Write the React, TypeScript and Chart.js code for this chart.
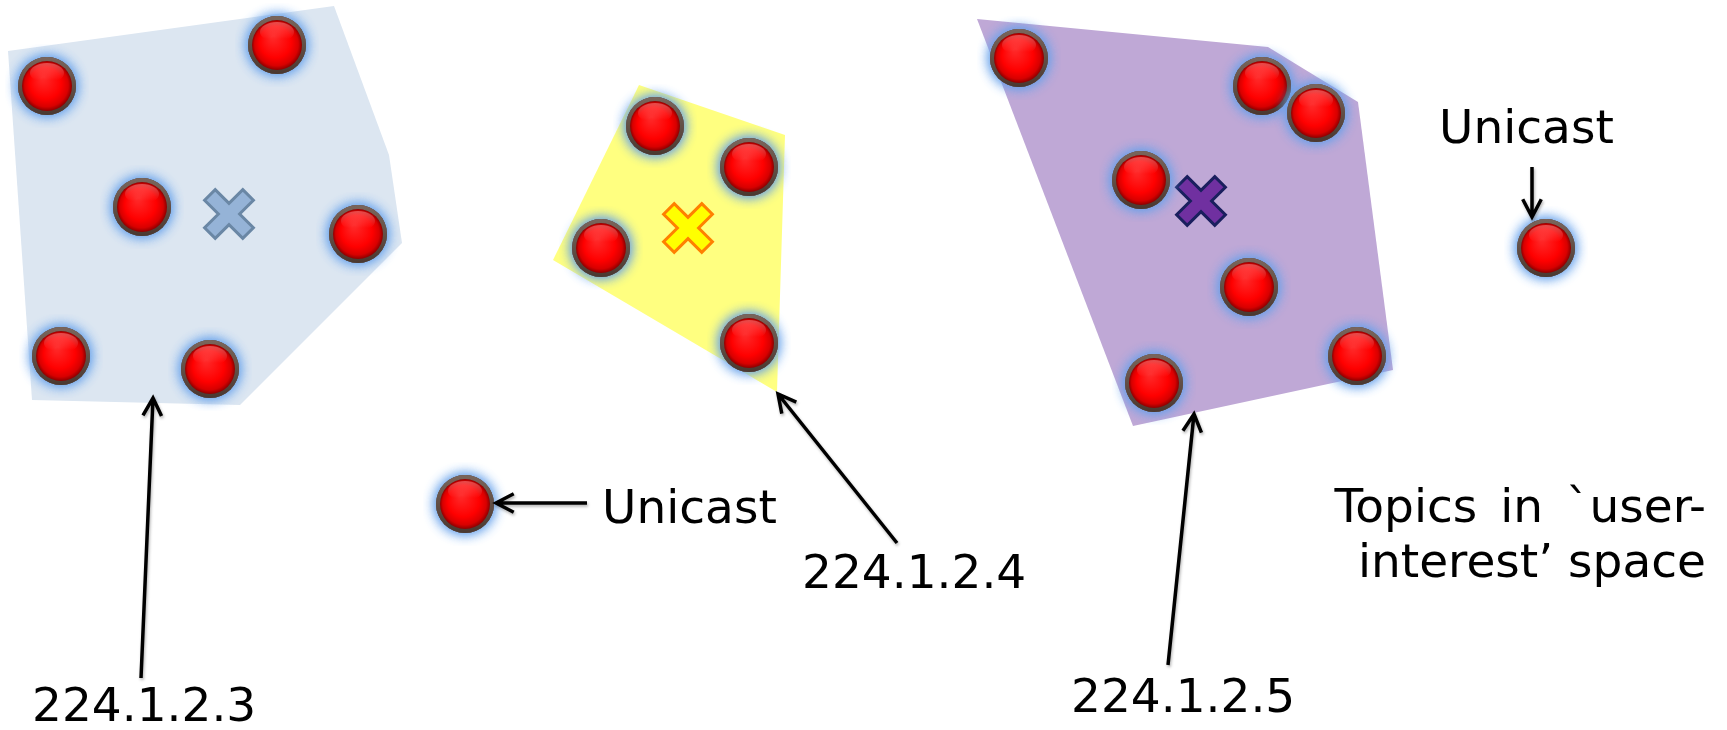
import { useEffect, useRef } from "react";
import { Chart, registerables } from "chart.js";

Chart.register(...registerables);

// ---- data (diagram coordinates: x 0..1727, y 0..730 top-down) ----
const blueRegion = [
  { x: 8, y: 51 }, { x: 334, y: 6 }, { x: 389, y: 155 }, { x: 402, y: 243 }, { x: 240, y: 405 }, { x: 32, y: 400 },
];
const blueTopics = [
  { x: 47, y: 86 }, { x: 277, y: 45 }, { x: 142, y: 207 }, { x: 358, y: 234 }, { x: 61, y: 356 }, { x: 210, y: 369 },
];
const blueCentroid = [{ x: 229, y: 214 }];

const yellowRegion = [
  { x: 639, y: 85 }, { x: 785, y: 135 }, { x: 777, y: 392 }, { x: 553, y: 260 },
];
const yellowTopics = [
  { x: 655, y: 126 }, { x: 749, y: 167 }, { x: 601, y: 248 }, { x: 749, y: 343 },
];
const yellowCentroid = [{ x: 688, y: 228 }];

const purpleRegion = [
  { x: 977, y: 19 }, { x: 1268, y: 47 }, { x: 1358, y: 102 }, { x: 1393, y: 370 }, { x: 1133, y: 426 },
];
const purpleTopics = [
  { x: 1019, y: 58 }, { x: 1262, y: 86 }, { x: 1316, y: 113 }, { x: 1141, y: 180 }, { x: 1249, y: 287 }, { x: 1357, y: 356 }, { x: 1154, y: 383 },
];
const purpleCentroid = [{ x: 1201, y: 201 }];

const unicastTopics = [{ x: 465, y: 504 }, { x: 1546, y: 248 }];

const arrowStarts = [
  { x: 141, y: 678 }, { x: 897, y: 543 }, { x: 1168, y: 665 }, { x: 587, y: 503 }, { x: 1532, y: 167 },
];
const arrowEnds = [
  { x: 153, y: 398 }, { x: 778, y: 394 }, { x: 1194, y: 414 }, { x: 496, y: 503 }, { x: 1532, y: 217 },
];

const labelTexts = ["224.1.2.3", "224.1.2.4", "224.1.2.5", "Unicast", "Unicast", "Topics in `user-", "interest\u2019 space"];
const labelAnchors = [
  { x: 32, y: 721 }, { x: 802, y: 588 }, { x: 1071, y: 712 }, { x: 602, y: 523 }, { x: 1439, y: 143 }, { x: 1706, y: 522 }, { x: 1706, y: 577 },
];
const labelAligns = ["left", "left", "left", "left", "left", "right", "right"];
const labelWordSpacing = [0, 0, 0, 0, 0, 8, 0];

// ---- marker images ----
function makeBall(): HTMLCanvasElement {
  const c = document.createElement("canvas");
  c.width = 84;
  c.height = 84;
  const g = c.getContext("2d")!;
  const cx = 42, cy = 42;
  g.save();
  g.shadowColor = "rgba(100,160,235,1)";
  g.shadowBlur = 13;
  g.beginPath();
  g.arc(cx, cy, 29, 0, Math.PI * 2);
  g.fillStyle = "#5f4b42";
  g.fill();
  g.fill();
  g.restore();
  const rg = g.createLinearGradient(0, cy - 29, 0, cy + 29);
  rg.addColorStop(0, "#7a665c");
  rg.addColorStop(1, "#4a3830");
  g.beginPath();
  g.arc(cx, cy, 29, 0, Math.PI * 2);
  g.fillStyle = rg;
  g.fill();
  const bg = g.createRadialGradient(cx - 4, cy - 7, 2, cx, cy, 25);
  bg.addColorStop(0, "#ff2424");
  bg.addColorStop(0.6, "#ff0000");
  bg.addColorStop(0.86, "#d80000");
  bg.addColorStop(1, "#8c0000");
  g.beginPath();
  g.arc(cx, cy, 25, 0, Math.PI * 2);
  g.fillStyle = bg;
  g.fill();
  const hg = g.createLinearGradient(0, cy - 24, 0, cy - 6);
  hg.addColorStop(0, "rgba(255,255,255,0.32)");
  hg.addColorStop(1, "rgba(255,255,255,0)");
  g.beginPath();
  g.ellipse(cx, cy - 13, 17, 10, 0, 0, Math.PI * 2);
  g.fillStyle = hg;
  g.fill();
  return c;
}

function makeCross(fill: string, stroke: string): HTMLCanvasElement {
  const c = document.createElement("canvas");
  c.width = 60;
  c.height = 60;
  const g = c.getContext("2d")!;
  g.translate(30, 30);
  g.rotate(Math.PI / 4);
  const a = 27, w = 7.5;
  const pts = [
    [-w, -a], [w, -a], [w, -w], [a, -w], [a, w], [w, w], [w, a], [-w, a], [-w, w], [-a, w], [-a, -w], [-w, -w],
  ];
  g.beginPath();
  pts.forEach(([x, y], i) => (i ? g.lineTo(x, y) : g.moveTo(x, y)));
  g.closePath();
  g.fillStyle = fill;
  g.fill();
  g.lineWidth = 3;
  g.lineJoin = "miter";
  g.strokeStyle = stroke;
  g.stroke();
  return c;
}

const diagramPlugin = {
  id: "diagram",
  beforeDatasetsDraw(chart: any) {
    const ctx = chart.ctx;
    chart.data.datasets.forEach((ds: any, i: number) => {
      if (!ds.regionColor) return;
      const meta = chart.getDatasetMeta(i);
      ctx.save();
      ctx.beginPath();
      meta.data.forEach((pt: any, j: number) => (j ? ctx.lineTo(pt.x, pt.y) : ctx.moveTo(pt.x, pt.y)));
      ctx.closePath();
      ctx.fillStyle = ds.regionColor;
      ctx.fill();
      ctx.restore();
    });
  },
  afterDatasetsDraw(chart: any) {
    const ctx = chart.ctx;
    const xs = chart.scales.x, ys = chart.scales.y;
    // arrows
    arrowStarts.forEach((s, i) => {
      const e = arrowEnds[i];
      const x1 = xs.getPixelForValue(s.x), y1 = ys.getPixelForValue(s.y);
      const x2 = xs.getPixelForValue(e.x), y2 = ys.getPixelForValue(e.y);
      const ang = Math.atan2(y2 - y1, x2 - x1);
      const head = 20, spread = Math.PI / 6.5;
      ctx.save();
      ctx.shadowColor = "rgba(0,0,0,0.3)";
      ctx.shadowBlur = 3;
      ctx.shadowOffsetX = 1;
      ctx.shadowOffsetY = 2;
      ctx.strokeStyle = "#000";
      ctx.lineWidth = 3.5;
      ctx.lineCap = "butt";
      ctx.lineJoin = "miter";
      ctx.beginPath();
      ctx.moveTo(x1, y1);
      ctx.lineTo(x2, y2);
      ctx.moveTo(x2 - head * Math.cos(ang - spread), y2 - head * Math.sin(ang - spread));
      ctx.lineTo(x2, y2);
      ctx.lineTo(x2 - head * Math.cos(ang + spread), y2 - head * Math.sin(ang + spread));
      ctx.stroke();
      ctx.restore();
    });
    // labels
    labelTexts.forEach((t, i) => {
      const p = labelAnchors[i];
      ctx.save();
      ctx.fillStyle = "#000";
      ctx.font = '47px "DejaVu Sans", Verdana, sans-serif';
      ctx.textBaseline = "alphabetic";
      (ctx as any).wordSpacing = labelWordSpacing[i] + "px";
      ctx.textAlign = labelAligns[i] as CanvasTextAlign;
      ctx.fillText(t, xs.getPixelForValue(p.x), ys.getPixelForValue(p.y));
      ctx.restore();
    });
  },
};

export default function App() {
  const ref = useRef<HTMLCanvasElement>(null);
  useEffect(() => {
    document.body.style.margin = "0";
    const ball = makeBall();
    const blueX = makeCross("#95b3d7", "#6a87a5");
    const yellowX = makeCross("#ffff00", "#ff8000");
    const purpleX = makeCross("#7030a0", "#1a1f5e");
    const ballDs = (data: any[]) => ({
      data,
      pointStyle: ball,
      pointRadius: 30,
      pointHoverRadius: 30,
      showLine: false,
      clip: false,
    });
    const crossDs = (data: any[], img: HTMLCanvasElement) => ({
      data,
      pointStyle: img,
      pointRadius: 26,
      pointHoverRadius: 26,
      showLine: false,
      clip: false,
    });
    const regionDs = (data: any[], color: string) => ({
      data,
      regionColor: color,
      pointRadius: 0,
      pointHoverRadius: 0,
      showLine: false,
      clip: false,
    });
    const chart = new Chart(ref.current!, {
      type: "scatter",
      data: {
        datasets: [
          ballDs(blueTopics),
          ballDs(yellowTopics),
          ballDs(purpleTopics),
          ballDs(unicastTopics),
          crossDs(blueCentroid, blueX),
          crossDs(yellowCentroid, yellowX),
          crossDs(purpleCentroid, purpleX),
          regionDs(blueRegion, "#dce6f1"),
          regionDs(yellowRegion, "#ffff80"),
          regionDs(purpleRegion, "#bfa8d6"),
        ] as any,
      },
      options: {
        animation: false,
        responsive: false,
        maintainAspectRatio: false,
        devicePixelRatio: 1,
        layout: { padding: 0, autoPadding: false },
        events: [],
        scales: {
          x: { type: "linear", min: 0, max: 1727, display: false, offset: false },
          y: { type: "linear", min: 0, max: 730, reverse: true, display: false, offset: false },
        },
        plugins: { legend: { display: false }, tooltip: { enabled: false } },
      },
      plugins: [diagramPlugin],
    });
    return () => chart.destroy();
  }, []);
  return <canvas ref={ref} width={1727} height={730} style={{ display: "block" }} />;
}
